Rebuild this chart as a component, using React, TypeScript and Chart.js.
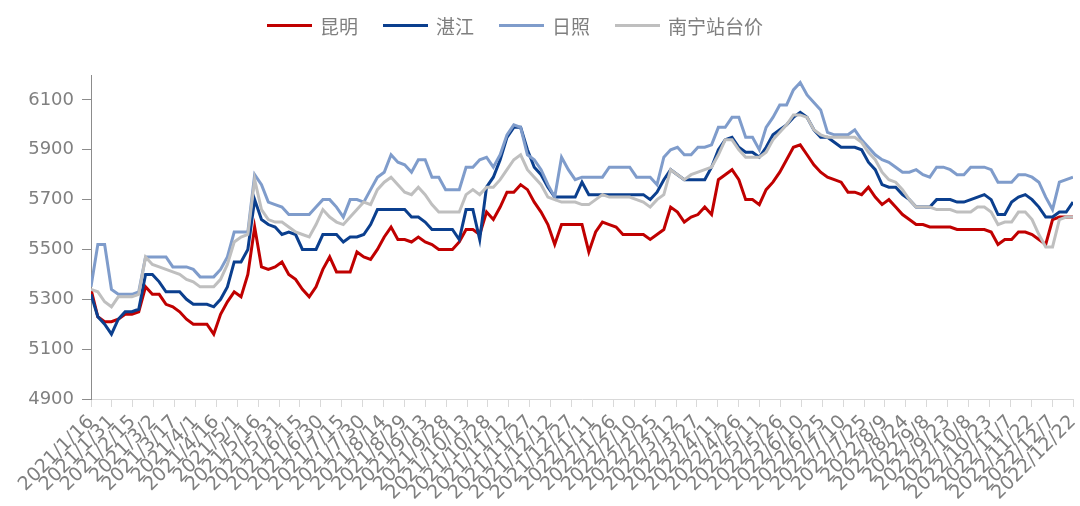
import React, { useEffect, useRef } from 'react';
import { Chart, registerables } from 'chart.js';

Chart.register(...registerables);

// x-axis tick labels (every 15 days)
const tickLabels = [
  '2021/1/16', '2021/1/31', '2021/2/15', '2021/3/2', '2021/3/17', '2021/4/1', '2021/4/16', '2021/5/1',
  '2021/5/16', '2021/5/31', '2021/6/15', '2021/6/30', '2021/7/15', '2021/7/30', '2021/8/14', '2021/8/29',
  '2021/9/13', '2021/9/28', '2021/10/13', '2021/10/28', '2021/11/12', '2021/11/27', '2021/12/12', '2021/12/27',
  '2022/1/11', '2022/1/26', '2022/2/10', '2022/2/25', '2022/3/12', '2022/3/27', '2022/4/11', '2022/4/26',
  '2022/5/11', '2022/5/26', '2022/6/10', '2022/6/25', '2022/7/10', '2022/7/25', '2022/8/9', '2022/8/24',
  '2022/9/8', '2022/9/23', '2022/10/8', '2022/10/23', '2022/11/7', '2022/11/22', '2022/12/7', '2022/12/22',
];
const TICK_DAYS = 15;
const SPAN_DAYS = 705; // 2021/1/16 -> 2022/12/22

const yTicks = [4900, 5100, 5300, 5500, 5700, 5900, 6100];

// series values sampled evenly across the date range
const kunming = [
  5340, 5230, 5210, 5210, 5220, 5240, 5240, 5250, 5350, 5320,
  5320, 5280, 5270, 5250, 5220, 5200, 5200, 5200, 5160, 5240,
  5290, 5330, 5310, 5400, 5590, 5430, 5420, 5430, 5450, 5400,
  5380, 5340, 5310, 5350, 5420, 5470, 5410, 5410, 5410, 5490,
  5470, 5460, 5500, 5550, 5590, 5540, 5540, 5530, 5550, 5530,
  5520, 5500, 5500, 5500, 5530, 5580, 5580, 5560, 5650, 5620,
  5670, 5730, 5730, 5760, 5740, 5690, 5650, 5600, 5520, 5600,
  5600, 5600, 5600, 5490, 5570, 5610, 5600, 5590, 5560, 5560,
  5560, 5560, 5540, 5560, 5580, 5670, 5650, 5610, 5630, 5640,
  5670, 5640, 5780,
  5800, 5820, 5780, 5700, 5700, 5680, 5740, 5770, 5810, 5860,
  5910, 5920, 5880, 5840, 5810, 5790, 5780, 5770, 5730, 5730,
  5720, 5750, 5710, 5680, 5700, 5670, 5640, 5620, 5600, 5600,
  5590, 5590, 5590, 5590, 5580, 5580, 5580, 5580, 5580, 5570,
  5520, 5540, 5540, 5570, 5570, 5560, 5540, 5520, 5620, 5630,
  5630, 5630,
];

const zhanjiang = [
  5320, 5230, 5200, 5160, 5220, 5250, 5250, 5260, 5400, 5400,
  5370, 5330, 5330, 5330, 5300, 5280, 5280, 5280, 5270, 5300,
  5350, 5450, 5450, 5500, 5700, 5620, 5600, 5590, 5560, 5570,
  5560, 5500, 5500, 5500, 5560, 5560, 5560, 5530, 5550, 5550,
  5560, 5600, 5660, 5660, 5660, 5660, 5660, 5630, 5630, 5610,
  5580, 5580, 5580, 5580, 5540, 5660, 5660, 5540, 5750, 5790,
  5860, 5950, 5990, 5990, 5900, 5830, 5800, 5750, 5710, 5710,
  5710, 5710, 5770, 5720, 5720, 5720, 5720, 5720, 5720, 5720,
  5720, 5720, 5700, 5730, 5780, 5820, 5800, 5780, 5780, 5780,
  5780, 5830, 5900,
  5940, 5950, 5910, 5890, 5890, 5870, 5910, 5960, 5980, 6000,
  6030, 6050, 6030, 5980, 5950, 5950, 5930, 5910, 5910, 5910,
  5900, 5850, 5820, 5760, 5750, 5750, 5720, 5700, 5670, 5670,
  5670, 5700, 5700, 5700, 5690, 5690, 5700, 5710, 5720, 5700,
  5640, 5640, 5690, 5710, 5720, 5700, 5670, 5630, 5630, 5650,
  5650, 5690,
];

const rizhao = [
  5350, 5520, 5520, 5340, 5320, 5320, 5320, 5330, 5470, 5470,
  5470, 5470, 5430, 5430, 5430, 5420, 5390, 5390, 5390, 5420,
  5470, 5570, 5570, 5570, 5800, 5760, 5690, 5680, 5670, 5640,
  5640, 5640, 5640, 5670, 5700, 5700, 5670, 5630, 5700, 5700,
  5690, 5740, 5790, 5810, 5880, 5850, 5840, 5810, 5860, 5860,
  5790, 5790, 5740, 5740, 5740, 5830, 5830, 5860, 5870, 5830,
  5880, 5960, 6000, 5990, 5880, 5860, 5820, 5760, 5710, 5870,
  5820, 5780, 5790, 5790, 5790, 5790, 5830, 5830, 5830, 5830,
  5790, 5790, 5790, 5760, 5870, 5900, 5910, 5880, 5880, 5910,
  5910, 5920, 5990,
  5990, 6030, 6030, 5950, 5950, 5900, 5990, 6030, 6080, 6080,
  6140, 6170, 6120, 6090, 6060, 5970, 5960, 5960, 5960, 5980,
  5940, 5910, 5880, 5860, 5850, 5830, 5810, 5810, 5820, 5800,
  5790, 5830, 5830, 5820, 5800, 5800, 5830, 5830, 5830, 5820,
  5770, 5770, 5770, 5800, 5800, 5790, 5770, 5710, 5660, 5770,
  5780, 5790,
];

const nanning = [
  5340, 5330, 5290, 5270, 5310, 5310, 5310, 5320, 5470, 5440,
  5430, 5420, 5410, 5400, 5380, 5370, 5350, 5350, 5350, 5380,
  5440, 5530, 5550, 5560, 5780, 5660, 5620, 5610, 5610, 5590,
  5570, 5560, 5550, 5600, 5660, 5630, 5610, 5600, 5630, 5660,
  5690, 5680, 5740, 5770, 5790, 5760, 5730, 5720, 5750, 5720,
  5680, 5650, 5650, 5650, 5650, 5720, 5740, 5720, 5750, 5750,
  5780, 5820, 5860, 5880, 5820, 5790, 5760, 5710, 5700, 5690,
  5690, 5690, 5680, 5680, 5700, 5720, 5710, 5710, 5710, 5710,
  5700, 5690, 5670, 5700, 5720, 5820, 5800, 5780, 5800, 5810,
  5820, 5830, 5880,
  5940, 5940, 5900, 5870, 5870, 5870, 5890, 5940, 5970, 6000,
  6040, 6040, 6030, 5980, 5960, 5950, 5950, 5950, 5950, 5950,
  5930, 5890, 5860, 5810, 5780, 5770, 5740, 5700, 5670, 5670,
  5670, 5660, 5660, 5660, 5650, 5650, 5650, 5670, 5670, 5650,
  5600, 5610, 5610, 5650, 5650, 5620, 5560, 5510, 5510, 5620,
  5630, 5630,
];

const seriesNames = ['昆明', '湛江', '日照', '南宁站台价'];
const seriesColors = ['#C00000', '#0B3F8E', '#7F9CCB', '#BFBFBF'];
const seriesValues = [kunming, zhanjiang, rizhao, nanning];

export default function App() {
  const ref = useRef<HTMLCanvasElement>(null);

  useEffect(() => {
    if (!ref.current) return;
    const step = SPAN_DAYS / (kunming.length - 1);
    const chart = new Chart(ref.current, {
      type: 'line',
      data: {
        datasets: seriesValues.map((vals, i) => ({
          label: seriesNames[i],
          data: vals.map((y, k) => ({ x: k * step, y })),
          borderColor: seriesColors[i],
          backgroundColor: seriesColors[i],
          borderWidth: 3,
          pointRadius: 0,
          tension: 0,
          order: seriesValues.length - i,
        })),
      },
      options: {
        responsive: false,
        animation: false,
        layout: { padding: { top: 75, left: 28, right: 7, bottom: 0 } },
        plugins: { legend: { display: false }, tooltip: { enabled: false } },
        scales: {
          x: {
            type: 'linear',
            min: 0,
            max: SPAN_DAYS,
            afterBuildTicks: (s: any) => {
              s.ticks = tickLabels.map((_, j) => ({ value: j * TICK_DAYS }));
            },
            afterFit: (s: any) => {
              s.height = 107;
              s.paddingRight = 0;
              s.paddingLeft = 0;
            },
            ticks: {
              autoSkip: false,
              minRotation: 45,
              maxRotation: 45,
              color: '#7f7f7f',
              padding: 4,
              font: { family: 'DejaVu Sans', size: 19 },
              callback: (v: any) => tickLabels[Math.round(Number(v) / TICK_DAYS)] ?? '',
            },
            grid: { display: true, drawOnChartArea: false, drawTicks: true, tickLength: 8, color: '#d9d9d9' },
            border: { display: true, color: '#d9d9d9', width: 1 },
          },
          y: {
            type: 'linear',
            min: 4900,
            max: 6200,
            afterBuildTicks: (s: any) => {
              s.ticks = yTicks.map((v) => ({ value: v }));
            },
            afterFit: (s: any) => {
              s.width = 63;
              s.paddingTop = 0;
              s.paddingBottom = 0;
            },
            ticks: {
              color: '#808080',
              padding: 8,
              font: { family: 'DejaVu Sans', size: 18 },
              callback: (v: any) => String(v),
            },
            grid: { display: true, drawOnChartArea: false, drawTicks: true, tickLength: 9, color: '#8c8c8c' },
            border: { display: true, color: '#8c8c8c', width: 1 },
          },
        },
      },
    });
    return () => chart.destroy();
  }, []);

  return (
    <div style={{ position: 'fixed', left: 0, top: 0, width: 1080, height: 506, background: '#fff', overflow: 'hidden' }}>
      <canvas ref={ref} width={1080} height={506} style={{ position: 'absolute', left: 0, top: 0 }} />
      <div
        style={{
          position: 'absolute',
          left: 267,
          top: 0,
          height: 50,
          display: 'flex',
          alignItems: 'center',
          gap: 25,
          fontFamily: '"Noto Sans CJK SC", sans-serif',
          fontSize: 19,
          letterSpacing: 0,
          color: '#7f7f7f',
          whiteSpace: 'nowrap',
        }}
      >
        {seriesNames.map((name, i) => (
          <div key={name} style={{ display: 'flex', alignItems: 'center' }}>
            <span style={{ display: 'inline-block', width: 45, height: 3, background: seriesColors[i], marginRight: 8 }} />
            <span>{name}</span>
          </div>
        ))}
      </div>
    </div>
  );
}
